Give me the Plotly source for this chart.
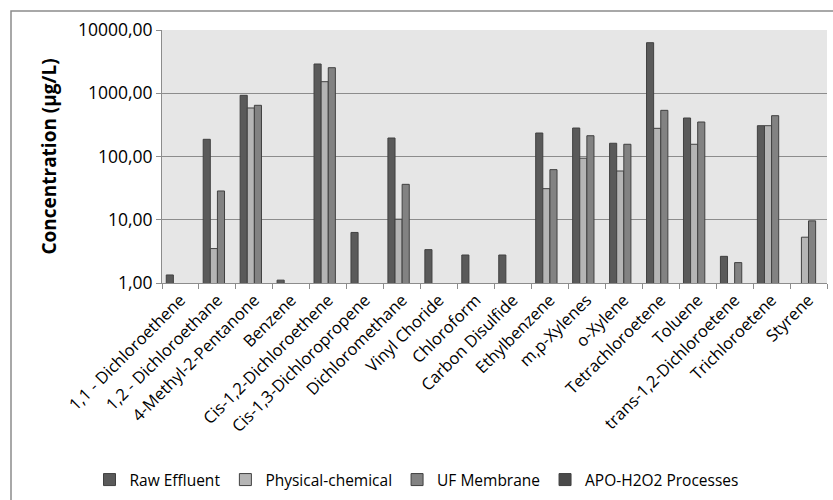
import plotly.graph_objects as go

compounds = [
    "1,1 - Dichloroethene", "1,2 - Dichloroethane", "4-Methyl-2-Pentanone", "Benzene",
    "Cis-1,2-Dichloroethene", "Cis-1,3-Dichloropropene", "Dichloromethane", "Vinyl Choride",
    "Chloroform", "Carbon Disulfide", "Ethylbenzene", "m,p-Xylenes", "o-Xylene",
    "Tetrachloroetene", "Toluene", "trans-1,2-Dichloroetene", "Trichloroetene", "Styrene",
]

raw_effluent = [1.34, 187, 928, 1.11, 2900, 6.3, 196, 3.37, 2.77, 2.77,
                235, 282, 162, 6300, 406, 2.64, 307, None]
physical_chemical = [None, 3.5, 585, None, 1524, None, 10.2, None, None, None,
                     31, 94, 59, 279, 156, None, 307, 5.3]
uf_membrane = [None, 28.5, 645, None, 2535, None, 36.3, None, None, None,
               62, 213, 156, 537, 351, 2.1, 442, 9.6]
apo_h2o2 = [None] * len(compounds)

series = [
    ("Raw Effluent", raw_effluent, "#5a5a5a"),
    ("Physical-chemical", physical_chemical, "#b5b5b5"),
    ("UF Membrane", uf_membrane, "#828282"),
    ("APO-H2O2 Processes", apo_h2o2, "#4a4a4a"),
]

tick_vals = [1, 10, 100, 1000, 10000]
tick_text = ["1,00", "10,00", "100,00", "1000,00", "10000,00"]

FONT = "'Open Sans', 'Liberation Sans', sans-serif"

fig = go.Figure()
for name, vals, color in series:
    fig.add_trace(go.Bar(
        x=compounds, y=vals, name=name,
        marker=dict(color=color, line=dict(color="#404040", width=1)),
    ))

W, H = 833, 500
L, R, T, B = 162, 6, 30, 217
pw, ph = W - L - R, H - T - B

def px_x(p):
    return (p - L) / pw

def px_y(p):
    return (H - B - p) / ph

fig.update_layout(
    width=W, height=H,
    margin=dict(l=L, r=R, t=T, b=B, autoexpand=False),
    paper_bgcolor="white",
    plot_bgcolor="#e6e6e6",
    barmode="group",
    bargap=0.23,
    bargroupgap=0,
    font=dict(family=FONT, color="#000000", size=14),
    showlegend=True,
    legend=dict(
        orientation="h", x=0.5, xanchor="center", xref="container",
        y=20 / H, yref="container", yanchor="middle",
        font=dict(size=15.5, family=FONT),
        traceorder="normal", itemwidth=30,
        bgcolor="rgba(0,0,0,0)",
    ),
    xaxis=dict(
        type="category",
        tickson="boundaries",
        ticks="outside", ticklen=5, tickcolor="#8c8c8c",
        showline=True, linecolor="#8c8c8c", linewidth=1,
        showgrid=False,
        tickangle=-45,
        tickfont=dict(size=16.5, family=FONT),
    ),
    yaxis=dict(
        type="log",
        range=[0, 4],
        tickvals=tick_vals, ticktext=tick_text,
        ticks="outside", ticklen=5, tickcolor="#8c8c8c",
        showline=True, linecolor="#8c8c8c", linewidth=1,
        showgrid=True, gridcolor="#8c8c8c", gridwidth=1,
        zeroline=False,
        tickfont=dict(size=17.5, family=FONT),
        title=dict(text="<b>Concentration (µg/L)</b>", font=dict(size=19, family=FONT), standoff=16),
    ),
    shapes=[
        dict(type="rect", xref="paper", yref="paper",
             x0=px_x(11), x1=px_x(845), y0=px_y(510), y1=px_y(11),
             line=dict(color="#8c8c8c", width=1.5), fillcolor="rgba(0,0,0,0)", layer="below"),
    ],
)

fig.write_html("out.html")
